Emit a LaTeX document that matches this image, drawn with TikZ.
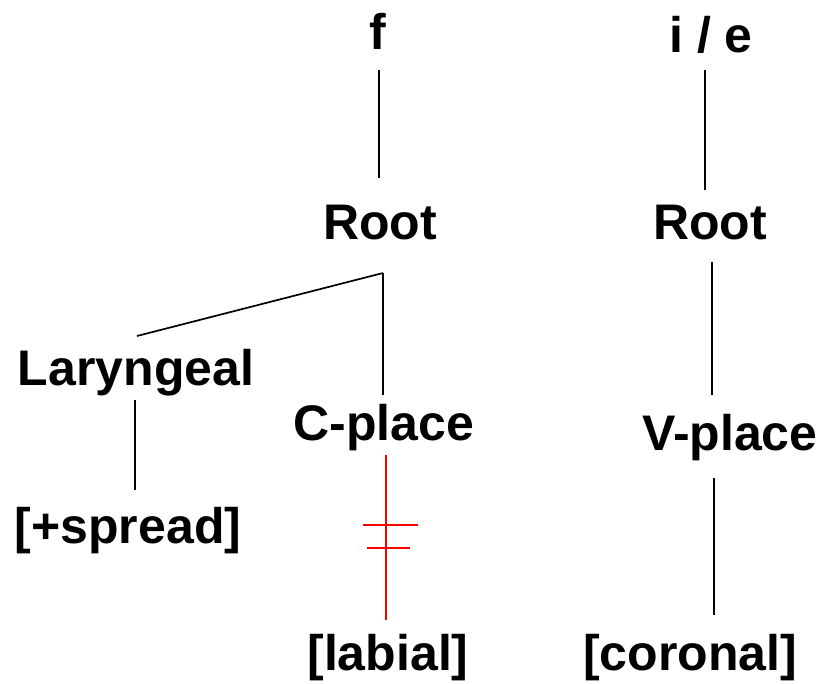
\documentclass[tikz,border=0pt]{standalone}
\usepackage{fontspec}
\setmainfont{Liberation Sans}
\begin{document}
\begin{tikzpicture}[x=1pt,y=-1pt,
  lbl/.style={anchor=base,inner sep=0pt,font=\fontsize{50}{60}\selectfont\bfseries},
  conn/.style={line width=1.7pt,black},
  delink/.style={line width=1.7pt,red}]
\useasboundingbox (0,0) rectangle (827,684);
\node[lbl] (f) at (378,50) {f};
\node[lbl] (ie) at (711,53) {i / e};
\node[lbl] (rootL) at (380,240) {Root};
\node[lbl] (rootR) at (710,240) {Root};
\node[lbl] (lar) at (136,385) {Laryngeal};
\node[lbl] (cpl) at (384,440) {C-place};
\node[lbl] (vpl) at (730,450) {V-place};
\node[lbl] (spr) at (128,543) {[+spread]};
\node[lbl] (lab) at (388,670) {[labial]};
\node[lbl] (cor) at (690,670) {[coronal]};
% connectors
\draw[conn] ([xshift=1pt,yshift=-20pt]f.base) -- ([xshift=-1pt,yshift=62pt]rootL.base);
\draw[conn] ([xshift=-6pt,yshift=-17pt]ie.base) -- ([xshift=-5pt,yshift=50pt]rootR.base);
\draw[conn] ([xshift=3pt,yshift=-33pt]rootL.base) coordinate (br) -- ([xshift=1pt,yshift=49pt]lar.base);
\draw[conn] (br) -- ([xshift=-1pt,yshift=45pt]cpl.base);
\draw[conn] ([xshift=-1pt,yshift=-15pt]lar.base) -- ([xshift=7pt,yshift=53pt]spr.base);
\draw[delink] ([xshift=2pt,yshift=-15pt]cpl.base) -- ([xshift=-2pt,yshift=50pt]lab.base);
\draw[delink] (363,525) -- (418,525);
\draw[delink] (367,548) -- (410,548);
\draw[conn] ([xshift=2pt,yshift=-22pt]rootR.base) -- ([xshift=-18pt,yshift=55pt]vpl.base);
\draw[conn] ([xshift=-16pt,yshift=-28pt]vpl.base) -- ([xshift=24pt,yshift=55pt]cor.base);
\end{tikzpicture}
\end{document}
